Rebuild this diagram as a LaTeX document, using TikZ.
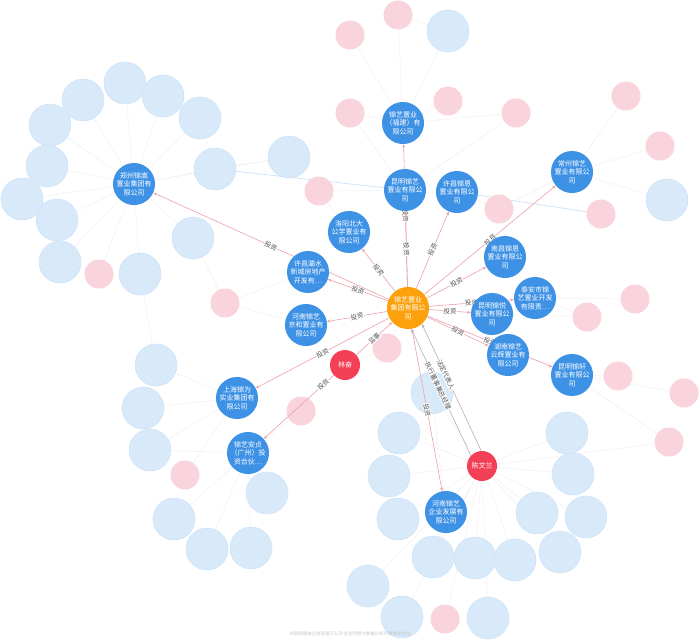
\documentclass[tikz,border=0pt]{standalone}
\usepackage{fontspec}
\newfontfamily\cjk{Noto Sans CJK SC}
\usetikzlibrary{arrows.meta}
\pgfdeclarelayer{back}
\pgfdeclarelayer{faintl}
\pgfdeclarelayer{light}
\pgfdeclarelayer{bg}
\pgfsetlayers{back,faintl,light,bg,main}
\definecolor{cblue}{RGB}{62,146,229}
\definecolor{corange}{RGB}{252,160,12}
\definecolor{cred}{RGB}{243,64,86}
\definecolor{lblue}{RGB}{216,233,250}
\definecolor{lbluedraw}{RGB}{205,225,247}
\definecolor{lpink}{RGB}{250,212,220}
\definecolor{cedge}{RGB}{236,160,170}
\definecolor{pedge}{RGB}{190,170,185}
\definecolor{ltext}{RGB}{85,85,85}
\definecolor{fgray}{RGB}{241,241,244}
\tikzset{
  co/.style={circle, fill=cblue, minimum size=42pt, inner sep=0pt, text=white,
    font=\cjk\fontsize{7}{8.5}\selectfont, align=center},
  hubnode/.style={co, fill=corange},
  per/.style={circle, fill=cred, minimum size=30pt, inner sep=0pt, text=white,
    font=\cjk\fontsize{7}{8.5}\selectfont},
  lb/.style={circle, fill=lblue, draw=lbluedraw, line width=0.5pt, minimum size=42pt, inner sep=0pt},
  lp/.style={circle, fill=lpink, minimum size=29pt, inner sep=0pt},
  inv/.style={draw=cedge, line width=0.6pt, -{Stealth[length=3.5pt,width=3pt]}},
  pinv/.style={draw=pedge, line width=0.6pt, -{Stealth[length=3.5pt,width=3pt]}},
  elab/.style={font=\cjk\fontsize{6.5}{7}\selectfont, text=ltext, sloped, fill=white, inner sep=0.4pt},
  faint/.style={draw=fgray, line width=0.5pt},
  faintb/.style={draw=lbluedraw, line width=0.7pt}
}
\begin{document}
\begin{tikzpicture}[x=1pt,y=-1pt]
\path[use as bounding box] (0,0) rectangle (700,641);
\begin{pgfonlayer}{back}
\fill[white] (0,0) rectangle (700,641);
\end{pgfonlayer}

\begin{pgfonlayer}{light}
% light blue background nodes
\foreach \n/\x/\y in {b1/125/83, b2/83/100, b3/163/96, b4/200/118, b5/50/125, b6/47/166,
  b7/22/199, b8/57/220, b9/60/262, b10/215/169, b11/289/157, b12/193/238, b13/140/274,
  b14/448/31, b15/667/200, b16/432/393, b17/399/433, b18/389/476, b19/398/519,
  b20/567/433, b21/573/474, b22/537/513, b23/586/517, b24/560/552, b25/433/557,
  b26/475/558, b27/515/560, b28/368/586, b29/402/617, b30/488/618, b31/156/365,
  b32/143/408, b33/150/450, b34/267/493, b35/174/519, b36/207/549, b37/251/548}
  \node[lb] (\n) at (\x,\y) {};
% light pink background nodes
\foreach \n/\x/\y in {p1/99/274, p2/319/191, p3/225/303, p4/350/35, p5/350/113, p6/398/15,
  p7/448/101, p8/516/113, p9/626/96, p10/660/146, p11/601/214, p12/499/209, p13/635/299,
  p14/587/317, p15/387/348, p16/618/376, p17/684/393, p18/669/442, p19/445/619,
  p20/185/475, p21/301/411}
  \node[lp] (\n) at (\x,\y) {};
\end{pgfonlayer}

% main nodes
\node[hubnode] (hub) at (408,308) {锦艺置业\\集团有限公\\司};
\node[co] (fj)   at (403,123) {锦艺置业\\（福建）有\\限公司};
\node[co] (km)   at (405,190) {昆明锦艺\\置业有限公\\司};
\node[co] (xje)  at (457,192) {许昌锦恩\\置业有限公\\司};
\node[co] (ly)   at (349,232) {洛阳北大\\公学置业有\\限公司};
\node[co] (xcb)  at (308,272) {许昌灞水\\新城房地产\\开发有…};
\node[co] (hnjh) at (306,325) {河南锦艺\\京和置业有\\限公司};
\node[co] (zz)   at (134,184) {郑州锦嵩\\置业集团有\\限公司};
\node[co] (cz)   at (572,172) {常州锦艺\\置业有限公\\司};
\node[co] (nc)   at (505,257) {南昌锦恩\\置业有限公\\司};
\node[co] (ta)   at (535,298) {泰安市锦\\艺置业开发\\有限责…};
\node[co] (kmy)  at (492,314) {昆明锦悦\\置业有限公\\司};
\node[co] (hnyh) at (508,355) {湖南锦艺\\云辉置业有\\限公司};
\node[co] (kmx)  at (572,375) {昆明锦轩\\置业有限公\\司};
\node[co] (sh)   at (237,398) {上海锦为\\实业集团有\\限公司};
\node[co] (ajz)  at (248,453) {锦艺安贞\\（广州）投\\资合伙…};
\node[co] (hnqy) at (446,512) {河南锦艺\\企业发展有\\限公司};
\node[per] (lf)  at (345,365) {林奋};
\node[per] (cwl) at (482,466) {陈文兰};

\node[font=\cjk\fontsize{4.5}{5}\selectfont, text=gray!45] (foot) at (350,634)
  {关联图谱由企查查基于公开信息利用大数据分析引擎独家生成};

\begin{pgfonlayer}{faintl}
% faint background links
\foreach \a/\b in {zz/b1, zz/b2, zz/b3, zz/b4, zz/b5, zz/b6, zz/b7, zz/b8, zz/b9, zz/b10,
  zz/b12, zz/b13, zz/p1, zz/b11, b10/b11, b1/b3, b4/b10, b12/p3, b13/b31,
  cwl/b16, cwl/b17, cwl/b18, cwl/b19, cwl/b20, cwl/b21, cwl/b22, cwl/b23, cwl/b24,
  cwl/b25, cwl/b26, cwl/b27, cwl/b28, cwl/b29, cwl/b30, cwl/p19, cwl/p18,
  sh/b31, sh/b32, sh/b33, sh/p20, ajz/b34, ajz/b35, ajz/b36, ajz/b37, ajz/b33, ajz/p21,
  fj/p4, fj/p6, fj/b14, fj/p5, fj/p7, km/p5, km/p2, km/p8, fj/p8, b14/p6,
  cz/p9, cz/p10, cz/b15, cz/p12, xje/p12, kmx/p16, kmx/p17, kmx/p18, ta/p13, ta/p14,
  kmy/p14, hnyh/p16, p15/lf, ly/p2, xcb/p3, hnjh/p3, hub/p15, b16/hnqy}
  \draw[faint] (\a) -- (\b);
\draw[faintb] (b10) -- (km);
\draw[faintb] (xje) -- (p11);
\end{pgfonlayer}

\begin{pgfonlayer}{bg}
% main links
\draw[inv] (hub) -- node[elab] {投资} (fj);
\draw[inv] (hub) -- node[elab] {投资} (km);
\draw[inv] (hub) -- node[elab] {投资} (xje);
\draw[inv] (hub) -- node[elab] {投资} (ly);
\draw[inv] (hub) -- node[elab] {投资} (xcb);
\draw[inv] (hub) -- node[elab] {投资} (hnjh);
\draw[inv] (hub) -- node[elab] {投资} (zz);
\draw[inv] (hub) -- node[elab] {投资} (sh);
\draw[inv] (hub) -- node[elab] {投资} (cz);
\draw[inv] (hub) -- node[elab] {投资} (nc);
\draw[inv] (hub) -- node[elab] {投资} (ta);
\draw[inv] (hub) -- node[elab] {投资} (kmy);
\draw[inv] (hub) -- node[elab] {投资} (hnyh);
\draw[inv] (hub) -- node[elab] {投资} (kmx);
\draw[inv] (hub) -- node[elab] {投资} (hnqy);
\draw[inv] (lf) -- node[elab] {监事} (hub);
\draw[inv] (lf) -- node[elab, pos=0.15] {投资} (ajz);
\draw[pinv] (cwl.93) -- node[elab, pos=0.6] {法定代表人} (hub.-49);
\draw[pinv] (cwl.137) -- node[elab, pos=0.55] {执行董事兼总经理} (hub.-81);
\end{pgfonlayer}
\end{tikzpicture}
\end{document}
